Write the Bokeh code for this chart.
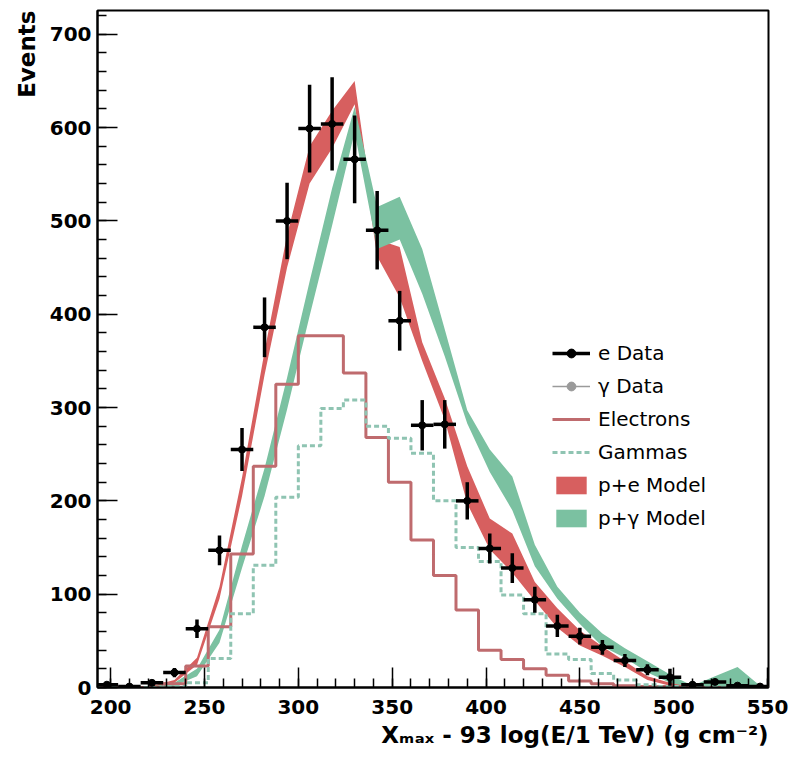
import numpy as np
from bokeh.plotting import figure
from bokeh.models import (ColumnDataSource, Legend, LegendItem, Title,
                          SingleIntervalTicker)
from bokeh.embed import file_html
from bokeh.resources import INLINE

# ---------------- data ----------------
bin_centers = [198, 210, 222, 234, 246, 258, 270, 282, 294, 306, 318, 330,
               342, 354, 366, 378, 390, 402, 414, 426, 438, 450, 462, 474,
               486, 498, 510, 522, 534, 546]
bin_width = 12

e_data = [3, 1, 5, 16, 63, 147, 255, 386, 500, 599, 604, 566,
          490, 393, 281, 282, 200, 149, 128, 94, 66, 55, 43, 29,
          19, 11, 3, 6, 2, 1]
e_err = [2, 1, 3, 5, 10, 16, 23, 32, 41, 47, 50, 47,
         42, 32, 27, 26, 20, 16, 16, 14, 12, 9, 8, 7,
         6, 9, 3, 3, 2, 2]

electrons = [0, 0, 0, 4, 23, 65, 143, 237, 325, 377, 377, 337,
             268, 220, 158, 120, 83, 40, 30, 20, 13, 7, 4, 2,
             1, 1, 0, 0, 0, 0]
gammas = [0, 0, 0, 1, 5, 31, 79, 131, 204, 259, 299, 308,
          280, 267, 251, 200, 150, 135, 99, 79, 36, 30, 15, 8,
          3, 1, 0, 0, 0, 0]

pe_upper = [0, 0, 2, 8, 32, 108, 225, 360, 485, 580, 618, 650,
            480, 472, 370, 310, 237, 181, 165, 113, 85, 61, 44, 28,
            12, 5, 2, 1, 0, 0]
pe_lower = [0, 0, 0, 5, 24, 95, 205, 335, 450, 540, 578, 625,
            462, 418, 350, 287, 197, 148, 123, 93, 64, 45, 34, 22,
            8, 2, 0, 0, 0, 0]

pg_upper = [0, 0, 1, 5, 20, 62, 152, 235, 332, 435, 535, 622,
            515, 526, 470, 384, 297, 255, 226, 153, 108, 80, 58, 42,
            28, 14, 2, 12, 22, 2]
pg_lower = [0, 0, 0, 2, 12, 48, 128, 205, 298, 398, 495, 595,
            470, 480, 422, 355, 283, 231, 190, 130, 95, 68, 44, 32,
            16, 5, 0, 1, 2, 0]

x_ticks_step = 50
y_ticks_step = 100

x_title = "X\u2098\u2090\u2093 - 93 log(E/1 TeV) (g cm\u207b\u00b2)"
y_title = "Events"

# ---------------- style ----------------
RED_BAND = "#d75f5f"
GREEN_BAND = "#7bc1a1"
ELEC = "#bf6b6e"
GAMMA = "#8fc4b2"
FONT = "DejaVu Sans"

p = figure(width=800, height=762, x_range=(193, 550.5), y_range=(0, 725.5),
           output_backend="svg", toolbar_location=None,
           min_border_left=97, min_border_right=32,
           min_border_top=10, min_border_bottom=75)
p.background_fill_color = "white"
p.border_fill_color = "white"
p.outline_line_color = "black"
p.outline_line_width = 2
p.xgrid.visible = False
p.ygrid.visible = False

p.xaxis.ticker = SingleIntervalTicker(interval=x_ticks_step, num_minor_ticks=5)
p.yaxis.ticker = SingleIntervalTicker(interval=y_ticks_step, num_minor_ticks=5)
for ax in (p.xaxis[0], p.yaxis[0]):
    ax.axis_line_color = "black"
    ax.axis_line_width = 2
    ax.major_tick_line_color = "black"
    ax.minor_tick_line_color = "black"
    ax.major_tick_line_width = 1.5
    ax.minor_tick_line_width = 1.5
    ax.major_tick_in = 20
    ax.major_tick_out = 0
    ax.minor_tick_in = 9
    ax.minor_tick_out = 0
    ax.major_label_text_font = FONT
    ax.major_label_text_font_style = "bold"
    ax.major_label_text_font_size = "20px"
    ax.major_label_text_color = "black"
p.xaxis[0].major_label_standoff = 12
p.yaxis[0].major_label_standoff = 6

# axis titles as side-panel titles, aligned to the far end of each axis
p.add_layout(Title(text=x_title, align="right", vertical_align="top",
                   text_font=FONT, text_font_style="bold",
                   text_font_size="23px", text_color="black",
                   standoff=10), "below")
p.add_layout(Title(text=y_title, align="right", text_font=FONT,
                   text_font_style="bold", text_font_size="23px",
                   text_color="black", standoff=13), "left")

# ---------------- bands ----------------
r_pe = p.varea(x=bin_centers, y1=pe_lower, y2=pe_upper, fill_color=RED_BAND)
r_pg = p.varea(x=bin_centers, y1=pg_lower, y2=pg_upper, fill_color=GREEN_BAND)

# ---------------- histograms ----------------
centers = np.array(bin_centers, dtype=float)
edges = np.append(centers - bin_width / 2, centers[-1] + bin_width / 2)
el_vals = list(electrons) + [electrons[-1]]
ga_vals = list(gammas) + [gammas[-1]]
r_el = p.step(x=edges, y=el_vals, mode="after", line_color=ELEC, line_width=3)
r_ga = p.step(x=edges, y=ga_vals, mode="after", line_color=GAMMA, line_width=3,
              line_dash="5 3")

# ---------------- data points ----------------
vals = np.array(e_data, dtype=float)
errs = np.array(e_err, dtype=float)
src = ColumnDataSource(dict(x=centers, y=vals,
                            ylo=vals - errs, yhi=vals + errs,
                            xlo=centers - bin_width / 2,
                            xhi=centers + bin_width / 2))
p.segment(x0="x", y0="ylo", x1="x", y1="yhi", source=src,
          line_color="black", line_width=3.5)
r_eline = p.segment(x0="xlo", y0="y", x1="xhi", y1="y", source=src,
                    line_color="black", line_width=3.5)
r_ept = p.scatter(x="x", y="y", source=src, size=7, marker="circle",
                  fill_color="black", line_color="black")

# gamma data: not visible in this view, legend proxy only (NaN data)
nan_src = ColumnDataSource(dict(x=[float("nan")] * 2, y=[float("nan")] * 2))
r_gline = p.line(x="x", y="y", source=nan_src, line_color="#9a9a9a", line_width=1.5)
r_gpt = p.scatter(x="x", y="y", source=nan_src, size=6, marker="circle",
                  fill_color="#9a9a9a", line_color="#9a9a9a")

legend = Legend(items=[
    LegendItem(label="e Data", renderers=[r_eline, r_ept]),
    LegendItem(label="\u03b3 Data", renderers=[r_gline, r_gpt]),
    LegendItem(label="Electrons", renderers=[r_el]),
    LegendItem(label="Gammas", renderers=[r_ga]),
    LegendItem(label="p+e Model", renderers=[r_pe]),
    LegendItem(label="p+\u03b3 Model", renderers=[r_pg]),
], location=(455, 157))
legend.border_line_color = None
legend.background_fill_alpha = 0
legend.label_text_font = FONT
legend.label_text_font_size = "20px"
legend.label_text_color = "black"
legend.glyph_width = 38
legend.glyph_height = 22
legend.spacing = 9
legend.padding = 0
legend.margin = 0
legend.label_standoff = 8
p.add_layout(legend)

open("out.html", "w").write(file_html(p, INLINE))
